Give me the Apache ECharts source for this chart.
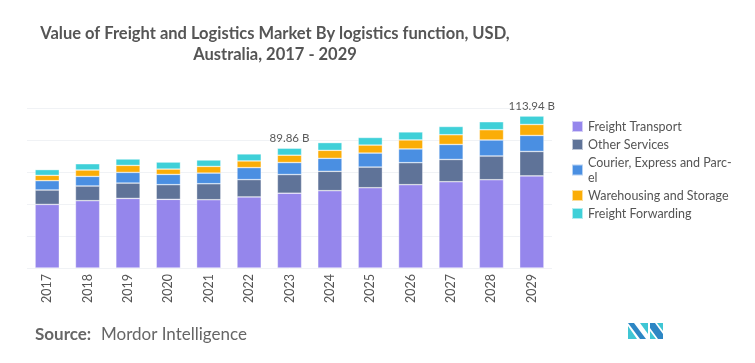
<!DOCTYPE html>
<html><head><meta charset="utf-8">
<script src="https://cdn.jsdelivr.net/npm/echarts@6/dist/echarts.min.js"></script>
<style>html,body{margin:0;padding:0;background:#fff}#c{width:755px;height:363px}</style>
</head><body><div id="c"></div>
<script>
var years = ['2017','2018','2019','2020','2021','2022','2023','2024','2025','2026','2027','2028','2029'];
var freightTransport = [47.7, 50.5, 52.2, 51.5, 51.2, 53.3, 56.1, 58.0, 60.2, 62.5, 64.7, 66.2, 69.1];
var otherServices    = [10.8, 11.0, 11.5, 11.0, 12.0, 13.0, 14.0, 14.5, 15.5, 16.5, 16.7, 17.8, 18.3];
var courier          = [7.0, 7.2, 8.0, 7.7, 8.0, 9.0, 9.0, 9.75, 10.5, 10.3, 11.25, 12.0, 12.0];
var warehousing      = [4.0, 4.8, 5.25, 4.0, 5.0, 5.0, 5.5, 6.0, 6.0, 6.75, 7.3, 7.7, 8.25];
var forwarding       = [4.3, 4.7, 4.8, 5.25, 4.8, 5.25, 5.25, 5.8, 5.7, 6.0, 6.2, 6.0, 6.3];
var totalLabels      = ['', '', '', '', '', '', '89.86 B', '', '', '', '', '', '113.94 B'];

var chart = echarts.init(document.getElementById('c'));
var font = 'Lato, "Open Sans", sans-serif';
function ser(name, data, color, last) {
  var s = {
    name: name, type: 'bar', stack: 'total', data: data, barWidth: '60%',
    itemStyle: { color: color, borderColor: 'rgba(255,255,255,0.6)', borderWidth: 0.6 },
    emphasis: { disabled: true }
  };
  if (last) {
    s.label = {
      show: true, position: 'top', distance: 4, color: '#5a5a5a', fontSize: 11.5, fontFamily: font,
      formatter: function (p) { return totalLabels[p.dataIndex]; }
    };
  }
  return s;
}
chart.setOption({
  animation: false,
  title: {
    text: 'Value of Freight and Logistics Market By logistics function, USD,\nAustralia, 2017 - 2029',
    left: 270, textAlign: 'center', top: 18,
    textStyle: { fontFamily: font, fontWeight: 'bold', fontSize: 16.5, color: '#555', lineHeight: 21 }
  },
  grid: { left: 27, right: 203, top: 108, bottom: 95 },
  legend: {
    orient: 'vertical', left: 566, top: 114, itemWidth: 11, itemHeight: 11, itemGap: 3,
    icon: 'rect',
    textStyle: { fontFamily: font, fontSize: 12.5, color: '#555', lineHeight: 15 },
    formatter: function (n) { return n === 'Courier, Express and Parcel' ? 'Courier, Express and Parc-\nel' : n; },
    data: ['Freight Transport', 'Other Services', 'Courier, Express and Parcel', 'Warehousing and Storage', 'Freight Forwarding']
  },
  xAxis: {
    type: 'category', data: years,
    axisLine: { show: false }, axisTick: { show: false },
    axisLabel: { rotate: 90, color: '#555', fontSize: 12.5, fontFamily: font, margin: 6 }
  },
  yAxis: {
    type: 'value', min: 0, max: 120, interval: 24,
    axisLabel: { show: false }, axisLine: { show: false }, axisTick: { show: false },
    splitLine: { lineStyle: { color: '#f0f2f5', width: 1 } }
  },
  series: [
    ser('Freight Transport', freightTransport, '#9586ec'),
    ser('Other Services', otherServices, '#5f7398'),
    ser('Courier, Express and Parcel', courier, '#4a8fe2'),
    ser('Warehousing and Storage', warehousing, '#fbad07'),
    ser('Freight Forwarding', forwarding, '#3fd0d8', true)
  ],
  graphic: [
    { type: 'text', left: 35, top: 326, style: { text: 'Source:', fontFamily: font, fontWeight: 'bold', fontSize: 17, fill: '#666' } },
    { type: 'text', left: 101, top: 326, style: { text: 'Mordor Intelligence', fontFamily: font, fontSize: 17, fill: '#666' } },
    { type: 'polygon', shape: { points: [[628,323],[634,323],[646,339],[640,339]] }, style: { fill: '#2d86c4' } },
    { type: 'polygon', shape: { points: [[628,326],[628,339],[637,339]] }, style: { fill: '#3fc6d4' } },
    { type: 'polygon', shape: { points: [[640,323],[648,323],[648,334]] }, style: { fill: '#3fc6d4' } },
    { type: 'polygon', shape: { points: [[650,323],[655,323],[663,334],[663,339],[658,339],[650,328]] }, style: { fill: '#2d86c4' } },
    { type: 'polygon', shape: { points: [[650,331],[650,339],[656,339]] }, style: { fill: '#3fc6d4' } },
    { type: 'polygon', shape: { points: [[657,323],[663,323],[663,331]] }, style: { fill: '#3fc6d4' } }
  ]
});
</script></body></html>
